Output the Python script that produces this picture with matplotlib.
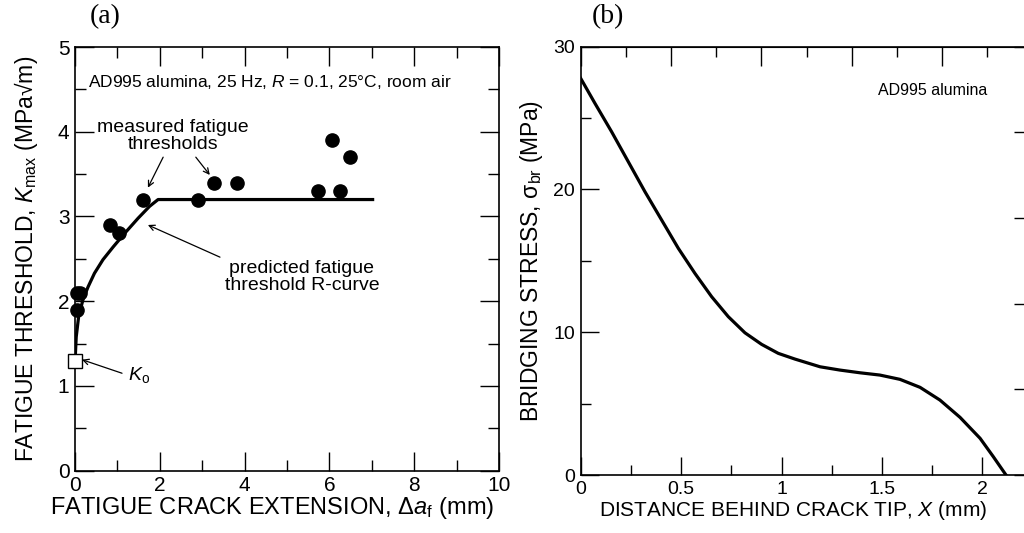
import numpy as np
import matplotlib
matplotlib.use("Agg")
import matplotlib.pyplot as plt
from matplotlib.ticker import MultipleLocator, FormatStrFormatter

plt.rcParams["font.family"] = ["Liberation Sans", "DejaVu Sans"]
plt.rcParams["mathtext.fontset"] = "custom"
plt.rcParams["mathtext.rm"] = "Liberation Sans"
plt.rcParams["mathtext.it"] = "Liberation Sans:italic"

# (a) measured fatigue thresholds
meas_da = [0.05, 0.12, 0.05, 0.83, 1.04, 1.61, 2.90, 3.27, 3.82, 5.74, 6.25, 6.05, 6.49]
meas_k = [2.10, 2.10, 1.90, 2.90, 2.80, 3.20, 3.20, 3.40, 3.40, 3.30, 3.30, 3.90, 3.70]
ko_da = [0.0]
ko_k = [1.30]
# predicted threshold R-curve
rc_da = [0.0, 0.008, 0.03, 0.087, 0.19, 0.31, 0.46, 0.66, 0.90, 1.17, 1.49, 1.76, 1.96, 7.02]
rc_k = [1.30, 1.35, 1.58, 1.82, 2.02, 2.17, 2.33, 2.49, 2.64, 2.80, 2.98, 3.12, 3.20, 3.20]

# (b) bridging stress distribution
br_x = [0.0, 0.071, 0.154, 0.237, 0.320, 0.403, 0.486, 0.569, 0.652, 0.735,
        0.818, 0.901, 0.984, 1.067, 1.192, 1.291, 1.391, 1.490, 1.590, 1.690,
        1.789, 1.889, 1.989, 2.055, 2.118]
br_s = [27.78, 26.03, 24.04, 21.94, 19.84, 17.86, 15.88, 14.12, 12.49, 11.09,
        9.96, 9.15, 8.52, 8.12, 7.58, 7.35, 7.16, 7.00, 6.70, 6.14,
        5.25, 4.04, 2.57, 1.28, 0.0]

fig = plt.figure(figsize=(10.24, 5.33), dpi=100)

# ---------------- panel (a) ----------------
ax1 = fig.add_axes([0.0732, 0.1169, 0.4141, 0.7949])
ax1.plot(rc_da, rc_k, color="black", lw=2.3, zorder=2, solid_joinstyle="round")
ax1.plot(meas_da, meas_k, "o", color="black", ms=9.5, zorder=3, clip_on=False)
ax1.plot(ko_da, ko_k, "s", mfc="white", mec="black", mew=1.0, ms=9.5, zorder=4,
         clip_on=False)
ax1.set_xlim(0, 10)
ax1.set_ylim(0, 5)
ax1.xaxis.set_major_locator(MultipleLocator(2))
ax1.xaxis.set_minor_locator(MultipleLocator(1))
ax1.yaxis.set_major_locator(MultipleLocator(1))
ax1.yaxis.set_minor_locator(MultipleLocator(0.5))
ax1.tick_params(which="both", direction="in", top=True, right=True, width=1.0,
                labelsize=15, pad=4)
ax1.tick_params(which="major", length=14)
ax1.tick_params(which="minor", length=8)
for s in ax1.spines.values():
    s.set_linewidth(1.2)
ax1.set_xlabel(r"FATIGUE CRACK EXTENSION, $\Delta a_{\rm f}$ (mm)", fontsize=17, labelpad=0)
ax1.xaxis.label.set_x(0.465)
ax1.set_ylabel(r"FATIGUE THRESHOLD, $K_{\rm max}$ (MPa√m)", fontsize=16.5, labelpad=13)

ax1.text(0.31, 4.59, r"AD995 alumina, 25 Hz, $R$ = 0.1, 25°C, room air",
         fontsize=12.5, ha="left", va="center")
ax1.text(2.31, 3.95, "measured fatigue\nthresholds", fontsize=14,
         ha="center", va="center", linespacing=1.0)
ax1.text(5.35, 2.28, "predicted fatigue\nthreshold R-curve", fontsize=14,
         ha="center", va="center", linespacing=1.0)
ax1.text(1.25, 1.13, r"$K_{\rm o}$", fontsize=14, ha="left", va="center")
arrow = dict(arrowstyle="->", color="black", lw=0.9, shrinkA=0, shrinkB=0)
ax1.annotate("", xy=(1.72, 3.34), xytext=(2.08, 3.70), arrowprops=arrow)
ax1.annotate("", xy=(3.18, 3.49), xytext=(2.85, 3.70), arrowprops=arrow)
ax1.annotate("", xy=(1.72, 2.90), xytext=(3.42, 2.52), arrowprops=arrow)
ax1.annotate("", xy=(0.165, 1.31), xytext=(1.11, 1.15), arrowprops=arrow)

fig.text(105 / 1024, 1 - 17 / 533, "(a)", family="Liberation Serif", fontsize=20,
         ha="center", va="center")

# ---------------- panel (b) ----------------
ax2 = fig.add_axes([0.5671, 0.1088, 0.4412, 0.8036])
ax2.plot(br_x, br_s, color="black", lw=2.3, solid_joinstyle="round")
ax2.set_xlim(0, 2.25)
ax2.set_ylim(0, 30)
ax2.xaxis.set_major_locator(MultipleLocator(0.5))
ax2.xaxis.set_minor_locator(MultipleLocator(0.25))
ax2.xaxis.set_major_formatter(FormatStrFormatter("%g"))
ax2.yaxis.set_major_locator(MultipleLocator(10))
ax2.yaxis.set_minor_locator(MultipleLocator(5))
ax2.tick_params(which="both", direction="in", width=1.0, labelsize=14, pad=4)
ax2.tick_params(which="major", length=13)
ax2.tick_params(which="minor", length=7)
for s in ax2.spines.values():
    s.set_linewidth(1.2)

# top / right secondary scales (5 divisions each)
top = ax2.secondary_xaxis("top")
top.xaxis.set_major_locator(MultipleLocator(0.45))
top.xaxis.set_minor_locator(MultipleLocator(0.225))
top.tick_params(which="both", direction="in", width=1.0, labeltop=False)
top.tick_params(which="major", length=14)
top.tick_params(which="minor", length=7)
rgt = ax2.secondary_yaxis("right")
rgt.yaxis.set_major_locator(MultipleLocator(6))
rgt.tick_params(which="both", direction="in", width=1.0, labelright=False, length=13)

ax2.set_xlabel(r"DISTANCE BEHIND CRACK TIP, $X$ (mm)", fontsize=15, labelpad=1)
ax2.xaxis.label.set_x(0.47)
ax2.set_ylabel("BRIDGING STRESS, σ$_{\\rm br}$ (MPa)", fontsize=16.5, labelpad=6)
ax2.text(1.755, 26.96, "AD995 alumina", fontsize=11.5, ha="center", va="center")

fig.text(608 / 1024, 1 - 17 / 533, "(b)", family="Liberation Serif", fontsize=20,
         ha="center", va="center")

fig.savefig("out.png", dpi=100)
